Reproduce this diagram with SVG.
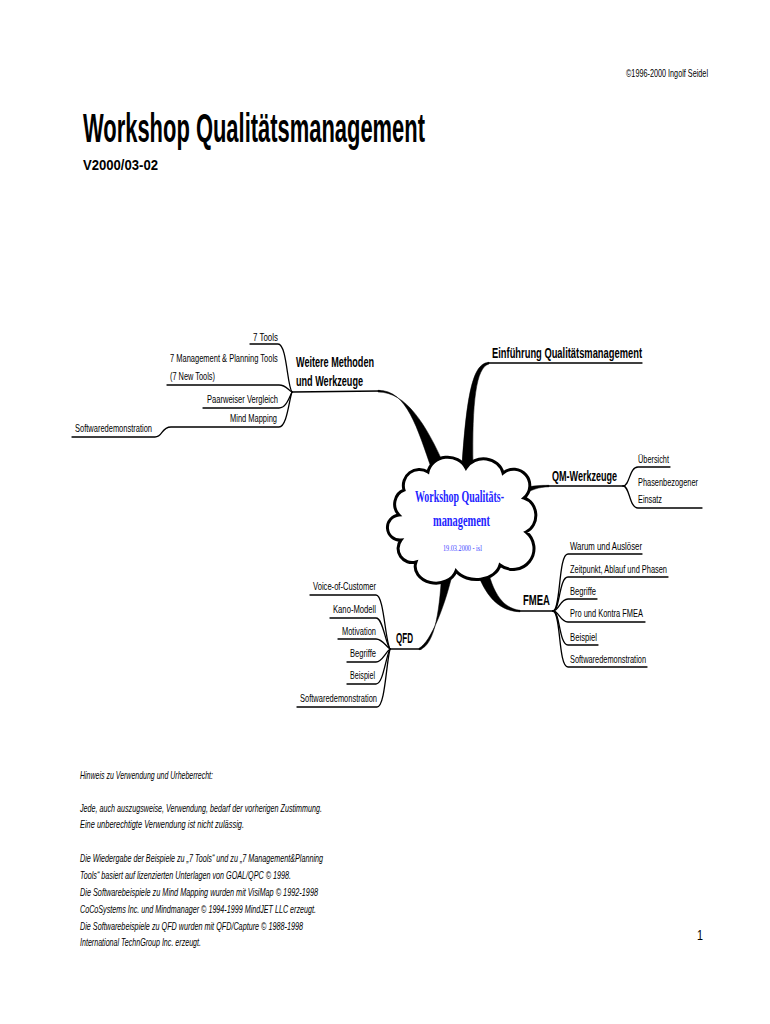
<svg xmlns="http://www.w3.org/2000/svg" width="770" height="1024" viewBox="0 0 770 1024">
<style>
text { font-family: 'Liberation Sans Narrow', 'Liberation Sans', Arial, sans-serif; fill: #000; }
.s { font-size: 11px; }
.b { font-size: 14px; font-weight: bold; }
.f { font-size: 10.5px; font-style: italic; }
.c { font-family: 'Liberation Serif', 'Times New Roman', serif; fill: #2424ff; font-weight: bold; font-size: 16px; }
.cd { font-family: 'Liberation Serif', 'Times New Roman', serif; fill: #4040ff; font-size: 8px; }
.ln { fill: none; stroke: #000; stroke-width: 1.3; stroke-linecap: round; }
.tk { fill: #000; stroke: #000; stroke-width: 0.5; }
</style>
<rect width="770" height="1024" fill="#fff"/>

<g id="header">
<text class="s" x="626" y="77" textLength="82" lengthAdjust="spacingAndGlyphs">©1996-2000 Ingolf Seidel</text>
<text x="83" y="142" font-size="40" font-weight="bold" textLength="342" lengthAdjust="spacingAndGlyphs">Workshop Qualitätsmanagement</text>
<text x="83" y="170" font-size="14" font-weight="bold" textLength="75" lengthAdjust="spacingAndGlyphs">V2000/03-02</text>
</g>

<g id="connectors">
<path class="ln" d="M 292 392 L 380 391"/>
<path class="tk" d="M 378 390.3 C 407 390, 417 428, 432 470 L 445 467 C 426 424, 406 392, 378 392 Z"/>
<path class="ln" d="M 488 363 L 642 363"/>
<path class="tk" d="M 489 362.3 C 474 363, 467 388, 462 466 L 473 466 C 472 402, 476 367, 489 364 Z"/>
<path class="ln" d="M 547 486 L 623 486"/>
<path class="tk" d="M 520 489 C 530 486, 538 485.2, 549 485.3 L 549 486.8 C 538 487, 532 490, 521 495 Z"/>
<path class="ln" d="M 519 611 L 553 611"/>
<path class="tk" d="M 473 559 C 482 592, 496 611, 520 611.8 L 520 610.3 C 501 608, 491 590, 485 557 Z"/>
<path class="ln" d="M 390 649 L 421 649"/>
<path class="tk" d="M 442 568 C 440 605, 436 646, 419 649.8 L 419 648.3 C 431 642, 446 604, 454 567 Z"/>

<path class="ln" d="M 250 344 L 278 344 C 287 344, 287 386, 292 392"/>
<path class="ln" d="M 167 385 L 279 385 C 286 385, 288 390, 292 392"/>
<path class="ln" d="M 203 408 L 279 408 C 286 408, 289 398, 292 392"/>
<path class="ln" d="M 72 437 L 155 437 C 163 437, 161 427, 171 427 L 279 427 C 287 427, 289 400, 292 392"/>

<path class="ln" d="M 623 486 C 630 486, 629 467, 638 467 L 670 467"/>
<path class="ln" d="M 623 486 C 630 486, 629 508, 638 508 L 702 508"/>

<path class="ln" d="M 553 611 C 561 611, 558 554, 568 554 L 642 554"/>
<path class="ln" d="M 553 611 C 560 611, 559 577, 568 577 L 668 577"/>
<path class="ln" d="M 553 611 C 559 611, 560 599, 568 599 L 597 599"/>
<path class="ln" d="M 553 611 C 559 611, 560 622, 568 622 L 645 622"/>
<path class="ln" d="M 553 611 C 560 611, 559 645, 568 645 L 598 645"/>
<path class="ln" d="M 553 611 C 561 611, 558 667, 568 667 L 647 667"/>

<path class="ln" d="M 310 595 L 376 595 C 384 595, 385 640, 390 649"/>
<path class="ln" d="M 330 618 L 376 618 C 383 618, 385 642, 390 649"/>
<path class="ln" d="M 338 639 L 376 639 C 382 639, 385 645, 390 649"/>
<path class="ln" d="M 347 662 L 376 662 C 382 662, 385 653, 390 649"/>
<path class="ln" d="M 347 684 L 376 684 C 383 684, 385 660, 390 649"/>
<path class="ln" d="M 297 707 L 377 707 C 385 707, 386 665, 390 649"/>
</g>

<g id="center">
<path d="M 399 515 A 14 15 0 0 1 404 490 A 16 16 0 0 1 428 472 A 20 18 0 0 1 466 468 A 20 18 0 0 1 503 473 A 16 16 0 0 1 524 498 A 16 18 0 0 1 526 532 A 18 18 0 0 1 500 565 A 24 18 0 0 1 456 571 A 20 16 0 0 1 416 562 A 14 14 0 0 1 401 540 A 12 12 0 0 1 399 515 Z" fill="#fff" stroke="#000" stroke-width="3"/>
<text class="c" x="415" y="502" textLength="89" lengthAdjust="spacingAndGlyphs">Workshop Qualitäts-</text>
<text class="c" x="433" y="526" textLength="57" lengthAdjust="spacingAndGlyphs">management</text>
<text class="cd" x="443" y="551" textLength="39" lengthAdjust="spacingAndGlyphs">19.03.2000 - isl</text>
</g>

<g id="weitere">
<text class="b" x="296" y="367" textLength="78" lengthAdjust="spacingAndGlyphs">Weitere Methoden</text>
<text class="b" x="296" y="386" textLength="67" lengthAdjust="spacingAndGlyphs">und Werkzeuge</text>
</g>
<g id="w-7tools"><text class="s" x="253" y="341" textLength="25" lengthAdjust="spacingAndGlyphs">7 Tools</text></g>
<g id="w-7mp">
<text class="s" transform="translate(170,362) scale(0.7,1)" x="0" y="0" textLength="154" lengthAdjust="spacingAndGlyphs">7 Management &amp; Planning Tools</text>
<text class="s" x="170" y="380" textLength="45" lengthAdjust="spacingAndGlyphs">(7 New Tools)</text>
</g>
<g id="w-paar"><text class="s" x="207" y="403" textLength="71" lengthAdjust="spacingAndGlyphs">Paarweiser Vergleich</text></g>
<g id="w-mind"><text class="s" x="230" y="422" textLength="47" lengthAdjust="spacingAndGlyphs">Mind Mapping</text></g>
<g id="w-soft"><text class="s" x="75" y="432" textLength="77" lengthAdjust="spacingAndGlyphs">Softwaredemonstration</text></g>

<g id="einfuehrung"><text class="b" x="492" y="358" textLength="150" lengthAdjust="spacingAndGlyphs">Einführung Qualitätsmanagement</text></g>

<g id="qm"><text class="b" transform="translate(552,481) scale(0.7,1)" x="0" y="0" textLength="93" lengthAdjust="spacingAndGlyphs">QM-Werkzeuge</text></g>
<g id="qm-uebersicht"><text class="s" x="638" y="463" textLength="31" lengthAdjust="spacingAndGlyphs">Übersicht</text></g>
<g id="qm-phasen">
<text class="s" x="638" y="486" textLength="60" lengthAdjust="spacingAndGlyphs">Phasenbezogener</text>
<text class="s" x="638" y="503" textLength="24" lengthAdjust="spacingAndGlyphs">Einsatz</text>
</g>

<g id="fmea"><text class="b" x="523" y="605" textLength="27" lengthAdjust="spacingAndGlyphs">FMEA</text></g>
<g id="f-warum"><text class="s" x="570" y="550" textLength="72" lengthAdjust="spacingAndGlyphs">Warum und Auslöser</text></g>
<g id="f-zeit"><text class="s" x="570" y="573" textLength="97" lengthAdjust="spacingAndGlyphs">Zeitpunkt, Ablauf und Phasen</text></g>
<g id="f-begriffe"><text class="s" x="570" y="595" textLength="26" lengthAdjust="spacingAndGlyphs">Begriffe</text></g>
<g id="f-pro"><text class="s" x="570" y="617" textLength="73" lengthAdjust="spacingAndGlyphs">Pro und Kontra FMEA</text></g>
<g id="f-beispiel"><text class="s" x="570" y="641" textLength="27" lengthAdjust="spacingAndGlyphs">Beispiel</text></g>
<g id="f-soft"><text class="s" x="570" y="663" textLength="76" lengthAdjust="spacingAndGlyphs">Softwaredemonstration</text></g>

<g id="qfd"><text class="b" x="396" y="643" textLength="17" lengthAdjust="spacingAndGlyphs">QFD</text></g>
<g id="q-voice"><text class="s" x="313" y="590" textLength="63" lengthAdjust="spacingAndGlyphs">Voice-of-Customer</text></g>
<g id="q-kano"><text class="s" x="333" y="613" textLength="43" lengthAdjust="spacingAndGlyphs">Kano-Modell</text></g>
<g id="q-motivation"><text class="s" x="342" y="635" textLength="34" lengthAdjust="spacingAndGlyphs">Motivation</text></g>
<g id="q-begriffe"><text class="s" x="350" y="657" textLength="26" lengthAdjust="spacingAndGlyphs">Begriffe</text></g>
<g id="q-beispiel"><text class="s" x="350" y="679" textLength="25" lengthAdjust="spacingAndGlyphs">Beispiel</text></g>
<g id="q-soft"><text class="s" x="300" y="702" textLength="77" lengthAdjust="spacingAndGlyphs">Softwaredemonstration</text></g>

<g id="footer">
<text class="f" x="80" y="779" textLength="133" lengthAdjust="spacingAndGlyphs">Hinweis zu Verwendung und Urheberrecht:</text>
<text class="f" x="80" y="812" textLength="242" lengthAdjust="spacingAndGlyphs">Jede, auch auszugsweise, Verwendung, bedarf der vorherigen Zustimmung.</text>
<text class="f" x="80" y="828" textLength="164" lengthAdjust="spacingAndGlyphs">Eine unberechtigte Verwendung ist nicht zulässig.</text>
<text class="f" x="80" y="862" textLength="243" lengthAdjust="spacingAndGlyphs">Die Wiedergabe der Beispiele zu „7 Tools“ und zu „7 Management&amp;Planning</text>
<text class="f" x="80" y="879" textLength="211" lengthAdjust="spacingAndGlyphs">Tools“ basiert auf lizenzierten Unterlagen von GOAL/QPC © 1998.</text>
<text class="f" x="80" y="896" textLength="238" lengthAdjust="spacingAndGlyphs">Die Softwarebeispiele zu Mind Mapping wurden mit VisiMap © 1992-1998</text>
<text class="f" x="80" y="913" textLength="236" lengthAdjust="spacingAndGlyphs">CoCoSystems Inc. und Mindmanager © 1994-1999 MindJET LLC erzeugt.</text>
<text class="f" x="80" y="930" textLength="223" lengthAdjust="spacingAndGlyphs">Die Softwarebeispiele zu QFD wurden mit QFD/Capture ©  1988-1998</text>
<text class="f" x="80" y="946" textLength="121" lengthAdjust="spacingAndGlyphs">International TechnGroup Inc. erzeugt.</text>
<text x="697" y="940" font-size="14" textLength="6" lengthAdjust="spacingAndGlyphs">1</text>
</g>
</svg>
